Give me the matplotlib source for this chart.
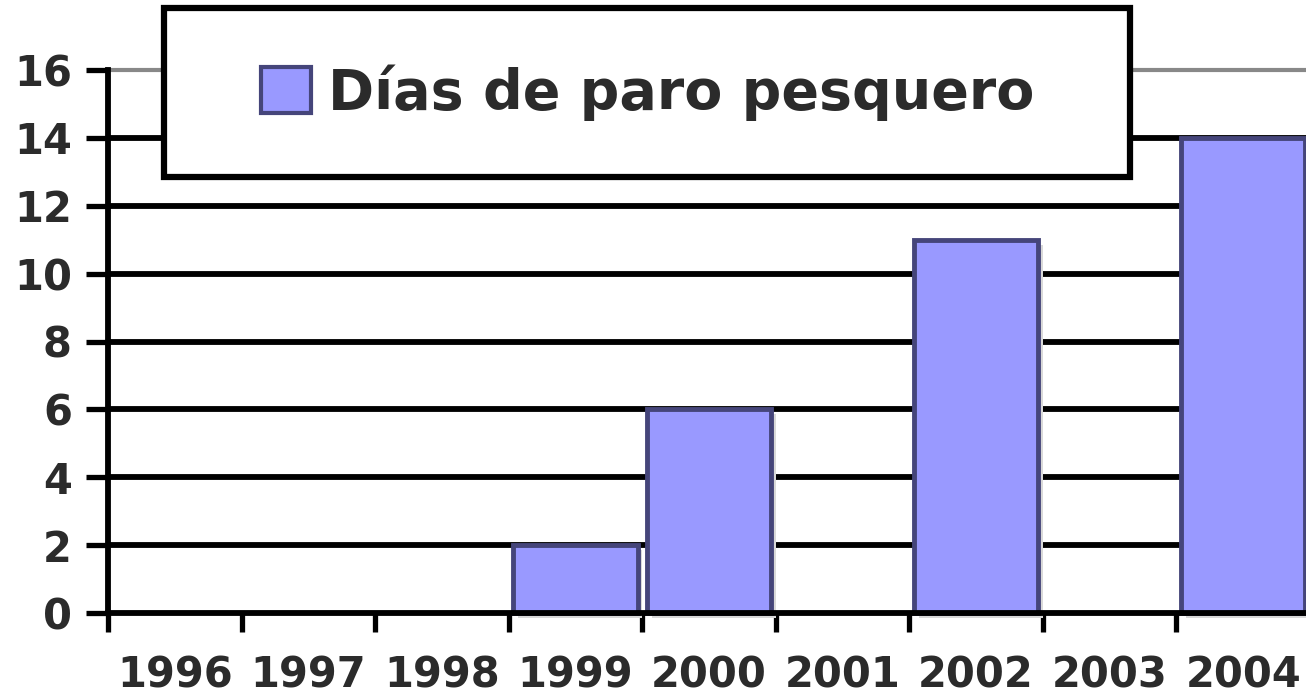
import numpy as np
import matplotlib
matplotlib.use("Agg")
import matplotlib.pyplot as plt
from matplotlib.patches import Rectangle, Patch
import matplotlib.patheffects as pe

years = ["1996", "1997", "1998", "1999", "2000", "2001", "2002", "2003", "2004"]
dias = [0, 0, 0, 2, 6, 0, 11, 0, 14]
yticks = [0, 2, 4, 6, 8, 10, 12, 14, 16]
series_name = "Días de paro pesquero"

W, H = 1306, 696
fig = plt.figure(figsize=(W / 100, H / 100), dpi=100)
fig.patch.set_facecolor("white")
ax = fig.add_axes([108 / W, 1 - 613 / H, (1310 - 108) / W, (613 - 70) / H])

x = np.arange(len(years))
bar_face = "#9999FF"
bar_edge = "#45457a"
shadow = [pe.SimplePatchShadow(offset=(3.5, -3.5), shadow_rgbFace="#d9d9d9", alpha=1.0), pe.Normal()]
bars = ax.bar(x, dias, width=0.93, color=bar_face, edgecolor=bar_edge, linewidth=3.5, zorder=3)
for b in bars:
    b.set_clip_on(False)
    b.set_path_effects(shadow)
    if b.get_height() == 0:
        b.set_visible(False)

ax.set_xlim(-0.5, len(years) - 0.5)
ax.set_ylim(0, 16)

# horizontal gridlines
for v in yticks[1:-1]:
    ax.axhline(v, color="black", lw=4.2, zorder=1)

ax.spines["right"].set_visible(False)
ax.spines["top"].set_color("#888888")
ax.spines["top"].set_linewidth(3)
ax.spines["left"].set_linewidth(4.2)
ax.spines["bottom"].set_linewidth(4.2)
ax.spines["left"].set_zorder(4)
ax.spines["bottom"].set_zorder(4)

txt_color = "#2b2b2b"
font = dict(family="DejaVu Sans", weight="bold")
ax.set_yticks(yticks)
ax.set_yticklabels([str(v) for v in yticks], fontsize=30, color=txt_color, **font)
ax.tick_params(axis="y", direction="out", length=16, width=3.8, pad=10, color="black")

ax.set_xticks(x)
ax.set_xticklabels(years, fontsize=30, color=txt_color, **font)
ax.tick_params(axis="x", which="major", length=0, pad=30)
ax.set_xticks(np.arange(len(years) + 1) - 0.5, minor=True)
ax.tick_params(axis="x", which="minor", direction="out", length=14, width=3.8, color="black")

# legend box
rect = Rectangle((164 / W, 1 - 177 / H), (1130 - 164) / W, (177 - 8) / H,
                 transform=fig.transFigure, facecolor="white", edgecolor="black",
                 linewidth=4.5, clip_on=False, zorder=8)
ax.add_patch(rect)
handle = Patch(facecolor=bar_face, edgecolor=bar_edge, linewidth=3, label=series_name)
leg = ax.legend(handles=[handle], loc="center", bbox_to_anchor=(648 / W, 1 - 92.5 / H),
                bbox_transform=fig.transFigure, frameon=False,
                prop=dict(family="DejaVu Sans", weight="bold", size=40),
                handlelength=0.9, handleheight=0.9, handletextpad=0.3)
for t in leg.get_texts():
    t.set_color(txt_color)
leg.set_zorder(10)

fig.savefig("out.png", dpi=100, facecolor="white")
